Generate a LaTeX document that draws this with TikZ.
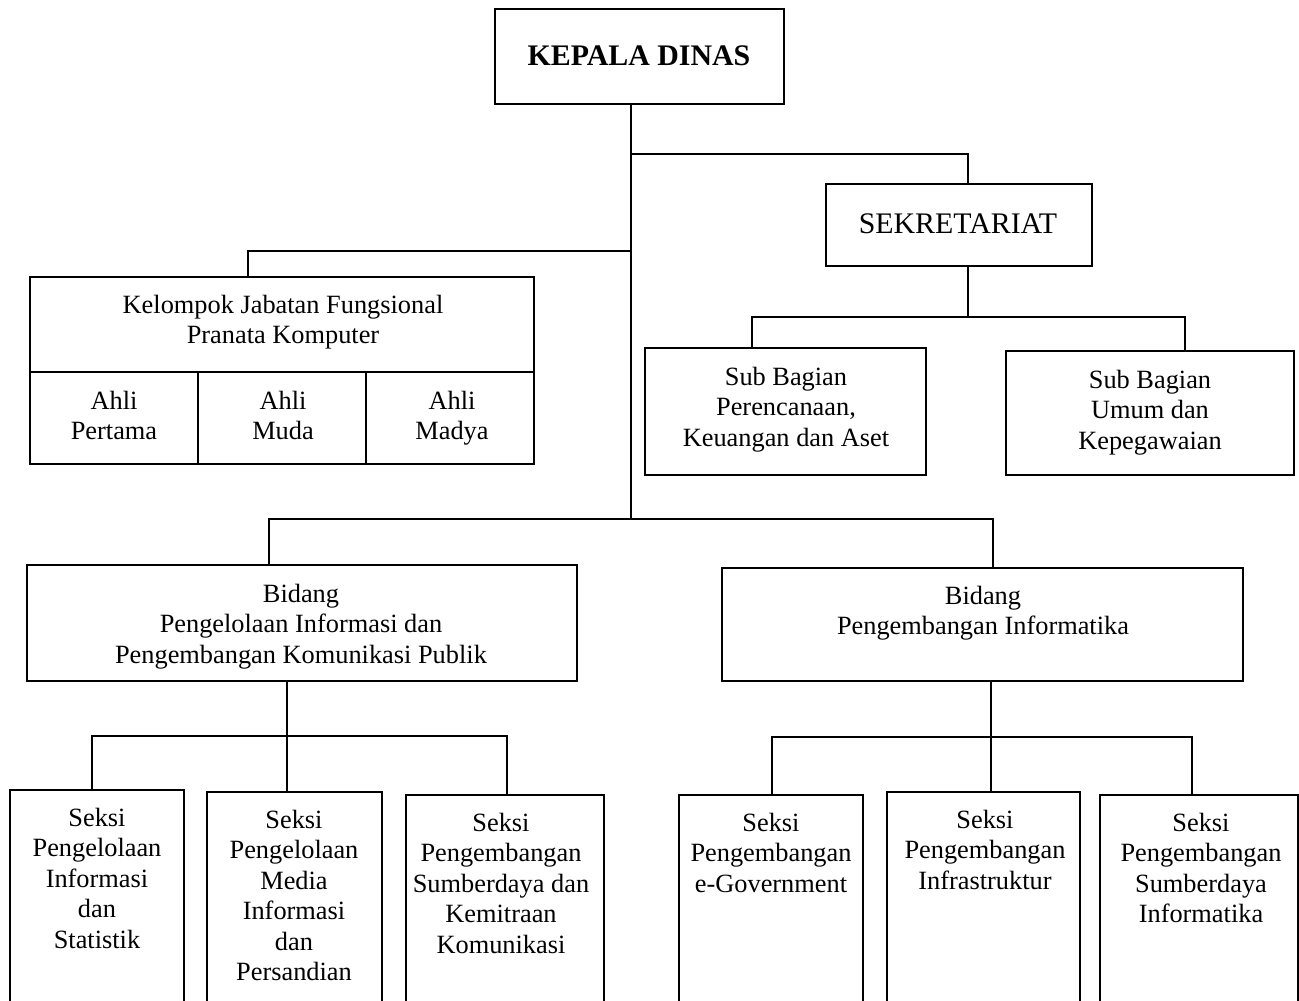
\documentclass[tikz,border=0pt]{standalone}
\usepackage{fontspec}
\setmainfont{Liberation Serif}
\usetikzlibrary{positioning, calc, fit}
\tikzset{
  every picture/.style={line width=1.1pt},
  box/.style={draw, inner sep=0pt, fit={#1}},
  txt/.style={align=center, inner sep=0pt, anchor=north, font=\fontsize{15}{17.35}\selectfont},
  head/.style={txt, font=\fontsize{17}{20}\selectfont},
}

\begin{document}
\begin{tikzpicture}[x=0.02cm, y=-0.02cm]
  \useasboundingbox (0,0) rectangle (1299,1001);
  \clip (0,0) rectangle (1299,1001);
  % top level
  \node[box={(495,9) (784,104)}] (kepala) {};
  \node[head, font=\fontsize{17}{20}\selectfont\bfseries] (kepalaT) at (639,45) {KEPALA DINAS};
  \node[box={(826,184) (1092,266)}] (sekr) {};
  \node[head] (sekrT) at (958,213) {SEKRETARIAT};
  % kelompok jabatan fungsional
  \node[box={(30,277) (534,372)}] (kel) {};
  \node[txt] (kelT) at (283,294) {Kelompok Jabatan Fungsional\\Pranata Komputer};
  \foreach \name/\xa/\xb/\cx/\i in {Pertama/30/198/114/1, Muda/198/366/283/2, Madya/366/534/452/3} {
    \node[box={(\xa,372) (\xb,464)}] (ahli\i) {};
    \node[txt] (ahli\i T) at (\cx,390) {Ahli\\\name};
  }
  % sub bagian
  \node[box={(645,348) (926,475)}] (subA) {};
  \node[txt] (subAT) at (786,366) {Sub Bagian\\Perencanaan,\\Keuangan dan Aset};
  \node[box={(1006,351) (1294,475)}] (subB) {};
  \node[txt] (subBT) at (1150,369) {Sub Bagian\\Umum dan\\Kepegawaian};
  % bidang
  \node[box={(27,565) (577,681)}] (bidA) {};
  \node[txt] (bidAT) at (301,583) {Bidang\\Pengelolaan Informasi dan\\Pengembangan Komunikasi Publik};
  \node[box={(722,568) (1243,681)}] (bidB) {};
  \node[txt] (bidBT) at (983,585) {Bidang\\Pengembangan Informatika};
  % seksi
  \node[box={(10,790) (184,1040)}] (s1) {};
  \node[txt] (s1T) at (97,807) {Seksi\\Pengelolaan\\Informasi\\dan\\Statistik};
  \node[box={(207,792) (382,1040)}] (s2) {};
  \node[txt] (s2T) at (294,809) {Seksi\\Pengelolaan\\Media\\Informasi\\dan\\Persandian};
  \node[box={(406,795) (604,1040)}] (s3) {};
  \node[txt] (s3T) at (501,812) {Seksi\\Pengembangan\\Sumberdaya dan\\Kemitraan\\Komunikasi};
  \node[box={(679,795) (863,1040)}] (s4) {};
  \node[txt] (s4T) at (771,812) {Seksi\\Pengembangan\\e-Government};
  \node[box={(887,792) (1080,1040)}] (s5) {};
  \node[txt] (s5T) at (985,809) {Seksi\\Pengembangan\\Infrastruktur};
  \node[box={(1100,795) (1298,1040)}] (s6) {};
  \node[txt] (s6T) at (1201,812) {Seksi\\Pengembangan\\Sumberdaya\\Informatika};
  % junctions
  \coordinate (jSek) at (631,154);
  \coordinate (dSek) at (968,154);
  \coordinate (jKel) at (631,251);
  \coordinate (dKel) at (248,251);
  \coordinate (jBid) at (631,519);
  \coordinate (dBidA) at (269,519);
  \coordinate (dBidB) at (993,519);
  \coordinate (jSub) at (968,317);
  \coordinate (dSubA) at (752,317);
  \coordinate (dSubB) at (1185,317);
  \coordinate (jSA) at (287,736);
  \coordinate (dS1) at (92,736);
  \coordinate (dS3) at (507,736);
  \coordinate (jSB) at (991,737);
  \coordinate (dS4) at (772,737);
  \coordinate (dS6) at (1192,737);
  % connectors
  \draw (kepala.south -| jSek) -- (jBid);
  \draw (jSek) -- (dSek) -- (dSek |- sekr.north);
  \draw (jKel) -- (dKel) -- (dKel |- kel.north);
  \draw (sekr.south -| jSub) -- (jSub);
  \draw (dSubA |- subA.north) -- (dSubA) -- (dSubB) -- (dSubB |- subB.north);
  \draw (dBidA |- bidA.north) -- (dBidA) -- (dBidB) -- (dBidB |- bidB.north);
  \draw (bidA.south -| jSA) -- (jSA |- s2.north);
  \draw (dS1 |- s1.north) -- (dS1) -- (dS3) -- (dS3 |- s3.north);
  \draw (bidB.south -| jSB) -- (jSB |- s5.north);
  \draw (dS4 |- s4.north) -- (dS4) -- (dS6) -- (dS6 |- s6.north);
\end{tikzpicture}
\end{document}
